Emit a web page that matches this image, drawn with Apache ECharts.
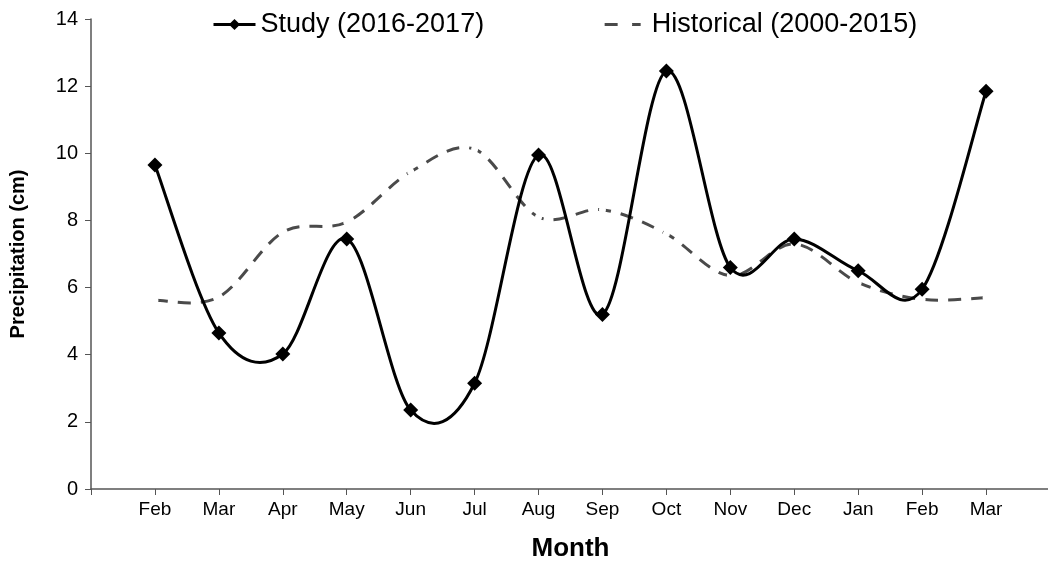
<!DOCTYPE html>
<html><head><meta charset="utf-8">
<script src="https://cdn.jsdelivr.net/npm/echarts@6/dist/echarts.min.js"></script>
<style>html,body{margin:0;padding:0;background:#fff;overflow:hidden}#c{width:1048px;height:565px}</style>
</head><body><div id="c"></div>
<script>
const months = ['Feb','Mar','Apr','May','Jun','Jul','Aug','Sep','Oct','Nov','Dec','Jan','Feb','Mar'];
const study = [9.65, 4.65, 4.02, 7.45, 2.35, 3.15, 9.95, 5.2, 12.45, 6.6, 7.45, 6.5, 5.95, 11.85];
const historical = [5.62, 5.72, 7.65, 7.95, 9.45, 10.12, 8.1, 8.32, 7.6, 6.35, 7.3, 6.15, 5.65, 5.7];
const yTicks = [0, 2, 4, 6, 8, 10, 12, 14];

const FONT = 'Liberation Sans, Arial, Helvetica, sans-serif';
const STUDY = 'Study (2016-2017)';
const HIST = 'Historical (2000-2015)';
const toPts = arr => arr.map((v, i) => [i + 1, v]);

// Excel-like smoothed curve (Catmull-Rom Bezier) built from the axis scales via api.coord
function smoothCurve(arr, style) {
  return function (params, api) {
    if (params.dataIndex !== 0) return null;
    const P = arr.map((v, i) => api.coord([i + 1, v]));
    const n = P.length;
    const k = 1 / 6;
    let d = 'M' + P[0][0] + ' ' + P[0][1];
    for (let i = 0; i < n - 1; i++) {
      const p0 = P[Math.max(i - 1, 0)], p1 = P[i], p2 = P[i + 1], p3 = P[Math.min(i + 2, n - 1)];
      const c1x = p1[0] + (p2[0] - p0[0]) * k, c1y = p1[1] + (p2[1] - p0[1]) * k;
      const c2x = p2[0] - (p3[0] - p1[0]) * k, c2y = p2[1] - (p3[1] - p1[1]) * k;
      d += ' C' + c1x + ' ' + c1y + ' ' + c2x + ' ' + c2y + ' ' + p2[0] + ' ' + p2[1];
    }
    return {type: 'path', shape: {pathData: d}, style: Object.assign({fill: null}, style)};
  };
}

const chart = echarts.init(document.getElementById('c'), null, {renderer: 'canvas'});
chart.setOption({
  animation: false,
  textStyle: {fontFamily: FONT},
  grid: {left: 91, top: 19, bottom: 76, right: -2, containLabel: false, outerBoundsMode: 'none'},
  legend: {
    top: 6, left: 207, itemGap: 119, itemWidth: 42, itemHeight: 14,
    textStyle: {fontSize: 27, color: '#000', fontFamily: FONT},
    data: [
      {name: STUDY, lineStyle: {opacity: 1, width: 3, color: '#000', type: 'solid'}},
      {name: HIST, lineStyle: {opacity: 1, width: 3, color: '#4a4a4a', type: [13, 10]}}
    ]
  },
  xAxis: {
    type: 'value', min: 0, max: 15, interval: 1,
    name: 'Month', nameLocation: 'middle', nameGap: 47,
    nameTextStyle: {fontSize: 26, fontWeight: 'bold', color: '#000', fontFamily: FONT},
    axisLine: {lineStyle: {color: '#555', width: 1.5}},
    axisTick: {show: true, length: 6, lineStyle: {color: '#555'}},
    splitLine: {show: false},
    axisLabel: {fontSize: 19, color: '#000', margin: 11,
      formatter: v => (v >= 1 && v <= months.length) ? months[v - 1] : ''}
  },
  yAxis: {
    type: 'value', min: yTicks[0], max: yTicks[yTicks.length - 1], interval: 2,
    name: 'Precipitation (cm)', nameLocation: 'middle', nameGap: 63,
    nameTextStyle: {fontSize: 20, fontWeight: 'bold', color: '#000', fontFamily: FONT},
    axisLine: {show: true, lineStyle: {color: '#555', width: 1.5}},
    axisTick: {show: true, length: 6, lineStyle: {color: '#555'}},
    splitLine: {show: false},
    axisLabel: {fontSize: 20, color: '#000', margin: 13}
  },
  series: [
    {
      name: 'hist-curve', type: 'custom', data: toPts(historical),
      renderItem: smoothCurve(historical, {stroke: '#4a4a4a', lineWidth: 3, lineDash: [13, 10]}),
      silent: true, z: 2
    },
    {
      name: HIST, type: 'line', data: toPts(historical),
      symbol: 'emptyCircle', symbolSize: 5,
      itemStyle: {color: '#fff', borderColor: '#555', borderWidth: 1},
      lineStyle: {color: '#4a4a4a', width: 3, opacity: 0, type: [13, 10]},
      z: 3
    },
    {
      name: 'study-curve', type: 'custom', data: toPts(study),
      renderItem: smoothCurve(study, {stroke: '#000', lineWidth: 3}),
      silent: true, z: 4
    },
    {
      name: STUDY, type: 'line', data: toPts(study),
      symbol: 'diamond', symbolSize: 15,
      itemStyle: {color: '#000'},
      lineStyle: {color: '#000', width: 3, opacity: 0},
      z: 5
    }
  ]
});
</script></body></html>
